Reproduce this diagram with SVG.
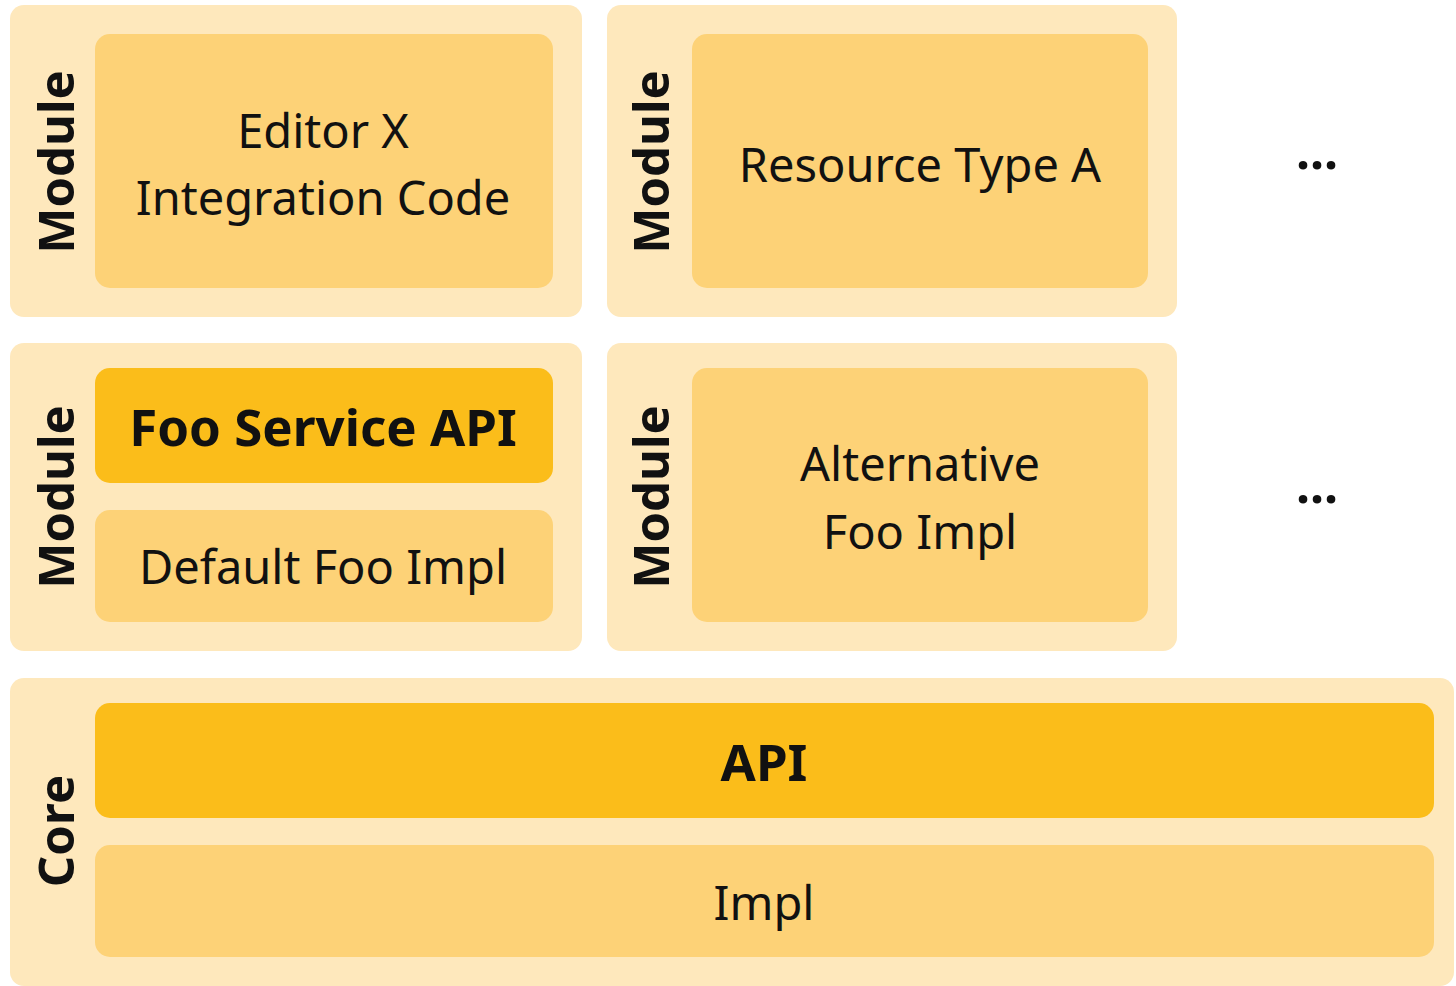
<svg xmlns="http://www.w3.org/2000/svg" width="1456" height="986" viewBox="0 0 1456 986">
<style>
.outer{fill:#FEE8BC}
.inner{fill:#FDD277}
.strong{fill:#FBBD1A}
text{font-family:"Noto Sans","Open Sans",sans-serif;fill:#111;text-anchor:middle}
.t{font-size:47px}
.b{font-size:51px;font-weight:bold}
.lbl{font-size:49px;font-weight:bold}
.dots{font-size:50px;font-weight:bold}
</style>
<rect width="1456" height="986" fill="#fff"/>
<g id="module1">
<rect class="outer" x="10" y="5" width="572" height="312" rx="14"/>
<text class="lbl" transform="translate(74,162) rotate(-90)">Module</text>
<rect class="inner" x="95" y="34" width="458" height="254" rx="15"/>
<text class="t" x="323" y="148">Editor X</text>
<text class="t" x="323" y="215">Integration Code</text>
</g>
<g id="module2">
<rect class="outer" x="607" y="5" width="570" height="312" rx="14"/>
<text class="lbl" transform="translate(669,162) rotate(-90)">Module</text>
<rect class="inner" x="692" y="34" width="456" height="254" rx="15"/>
<text class="t" x="920" y="182">Resource Type A</text>
</g>
<g id="module3">
<rect class="outer" x="10" y="343" width="572" height="308" rx="14"/>
<text class="lbl" transform="translate(74,497) rotate(-90)">Module</text>
<rect class="strong" x="95" y="368" width="458" height="115" rx="15"/>
<text class="b" x="323" y="446">Foo Service API</text>
<rect class="inner" x="95" y="510" width="458" height="112" rx="15"/>
<text class="t" x="323" y="584">Default Foo Impl</text>
</g>
<g id="module4">
<rect class="outer" x="607" y="343" width="570" height="308" rx="14"/>
<text class="lbl" transform="translate(669,497) rotate(-90)">Module</text>
<rect class="inner" x="692" y="368" width="456" height="254" rx="15"/>
<text class="t" x="920" y="481">Alternative</text>
<text class="t" x="920" y="549">Foo Impl</text>
</g>
<g id="core">
<rect class="outer" x="10" y="678" width="1444" height="308" rx="14"/>
<text class="lbl" transform="translate(74,831) rotate(-90)">Core</text>
<rect class="strong" x="95" y="703" width="1339" height="115" rx="15"/>
<text class="b" x="764" y="781">API</text>
<rect class="inner" x="95" y="845" width="1339" height="112" rx="15"/>
<text class="t" x="764" y="920">Impl</text>
</g>
<g id="more1"><text class="dots" x="1317" y="169">...</text></g>
<g id="more2"><text class="dots" x="1317" y="503">...</text></g>
<g id="connectors"></g>
</svg>
